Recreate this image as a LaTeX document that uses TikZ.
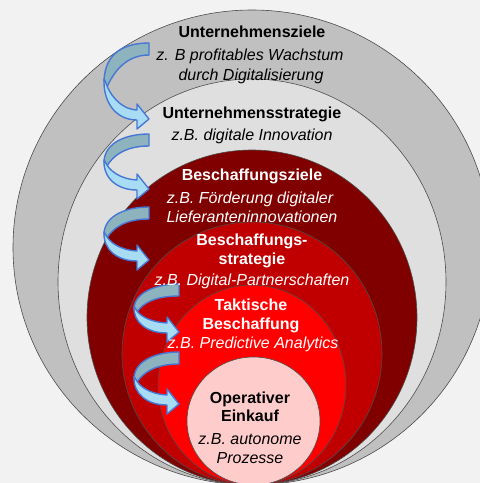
\documentclass[tikz,border=0pt]{standalone}
\usepackage{fontspec}
\setmainfont{Liberation Sans}
\definecolor{bg}{HTML}{F2F2F2}
\definecolor{ringA}{HTML}{C0C0C0}
\definecolor{ringB}{HTML}{DFDFDF}
\definecolor{ringC}{HTML}{800000}
\definecolor{ringD}{HTML}{C00000}
\definecolor{ringE}{HTML}{FF0000}
\definecolor{ringF}{HTML}{FFCCCC}
\definecolor{ribdark}{HTML}{8DB3BF}
\definecolor{riblight}{HTML}{A8DCF4}
\definecolor{ribline}{HTML}{4677D4}
\newcommand{\ribbonarrow}[3]{%
  \begin{scope}[shift={(#1,#2)}]
    \filldraw[back] (0,0) .. controls (-22,0) and (-44,8) .. (-45,{0.5*#3})
      -- (-42,{0.58*#3}) .. controls (-36,{0.4*#3}) and (-24,12) .. (0,12) -- cycle;
    \filldraw[front] (-45,{0.47*#3}) .. controls (-46,{0.8*#3}) and (-32,{#3+1}) .. (-12,{#3+1})
      -- (-12,{#3+10}) -- (0,{#3}) -- (-12,{#3-15}) -- (-12,{#3-9})
      .. controls (-30,{#3-10}) and (-40,{0.65*#3}) .. (-43,{0.53*#3}) -- cycle;
  \end{scope}}
\begin{document}
\begin{tikzpicture}[x=1pt,y=-1pt,
  ring/.style={draw=black!70, line width=0.6pt},
  ttl/.style={font=\fontsize{16}{19}\selectfont\bfseries, anchor=base, inner sep=0pt},
  sub/.style={font=\fontsize{16}{19}\selectfont\itshape, anchor=base, inner sep=0pt},
  back/.style={fill=ribdark, draw=ribline, line width=1.4pt, line join=round},
  front/.style={fill=riblight, draw=ribline, line width=1.4pt, line join=round}]
\useasboundingbox (0,0) rectangle (480,483);
\fill[bg] (0,0) rectangle (480,483);
\begin{scope}
\clip (0,0) rectangle (480,483);
\filldraw[ring, fill=ringA] (252,247.5) ellipse [x radius=239, y radius=237.5];
\filldraw[ring, fill=ringB] (252,282) ellipse [x radius=194, y radius=203];
\filldraw[ring, fill=ringC] (252,317.5) ellipse [x radius=165, y radius=167.5];
\filldraw[ring, fill=ringD] (252,353.5) ellipse [x radius=130, y radius=131.5];
\filldraw[ring, fill=ringE] (252,385) ellipse [x radius=94, y radius=100];
\filldraw[ring, fill=ringF] (253.5,421) ellipse [x radius=66.5, y radius=64];
\end{scope}
\ribbonarrow{149}{43}{76}
\ribbonarrow{149}{134}{55}
\ribbonarrow{149}{207}{53}
\ribbonarrow{179}{284}{48}
\ribbonarrow{179}{352}{52}
\node[ttl] (t1) at (252,37) {Unternehmensziele};
\node[sub] (s1a) at (250,60) {z. B profitables Wachstum};
\node[sub] (s1b) at (251,80) {durch Digitalisierung};
\node[ttl] (t2) at (252,118) {Unternehmensstrategie};
\node[sub] (s2) at (252,140) {z.B. digitale Innovation};
\node[ttl, text=white] (t3) at (252,180) {Beschaffungsziele};
\node[sub, text=white] (s3a) at (250,203) {z.B. Förderung digitaler};
\node[sub, text=white] (s3b) at (252,222) {Lieferanteninnovationen};
\node[ttl, text=white] (t4a) at (252,245) {Beschaffungs-};
\node[ttl, text=white] (t4b) at (252,264) {strategie};
\node[sub, text=white] (s4) at (252,285) {z.B. Digital-Partnerschaften};
\node[ttl, text=white] (t5a) at (251,310) {Taktische};
\node[ttl, text=white] (t5b) at (251,329) {Beschaffung};
\node[sub, text=white] (s5) at (253,348) {z.B. Predictive Analytics};
\node[ttl] (t6a) at (250,403) {Operativer};
\node[ttl] (t6b) at (250,421) {Einkauf};
\node[sub] (s6a) at (250,444) {z.B. autonome};
\node[sub] (s6b) at (250,463) {Prozesse};
\end{tikzpicture}
\end{document}
